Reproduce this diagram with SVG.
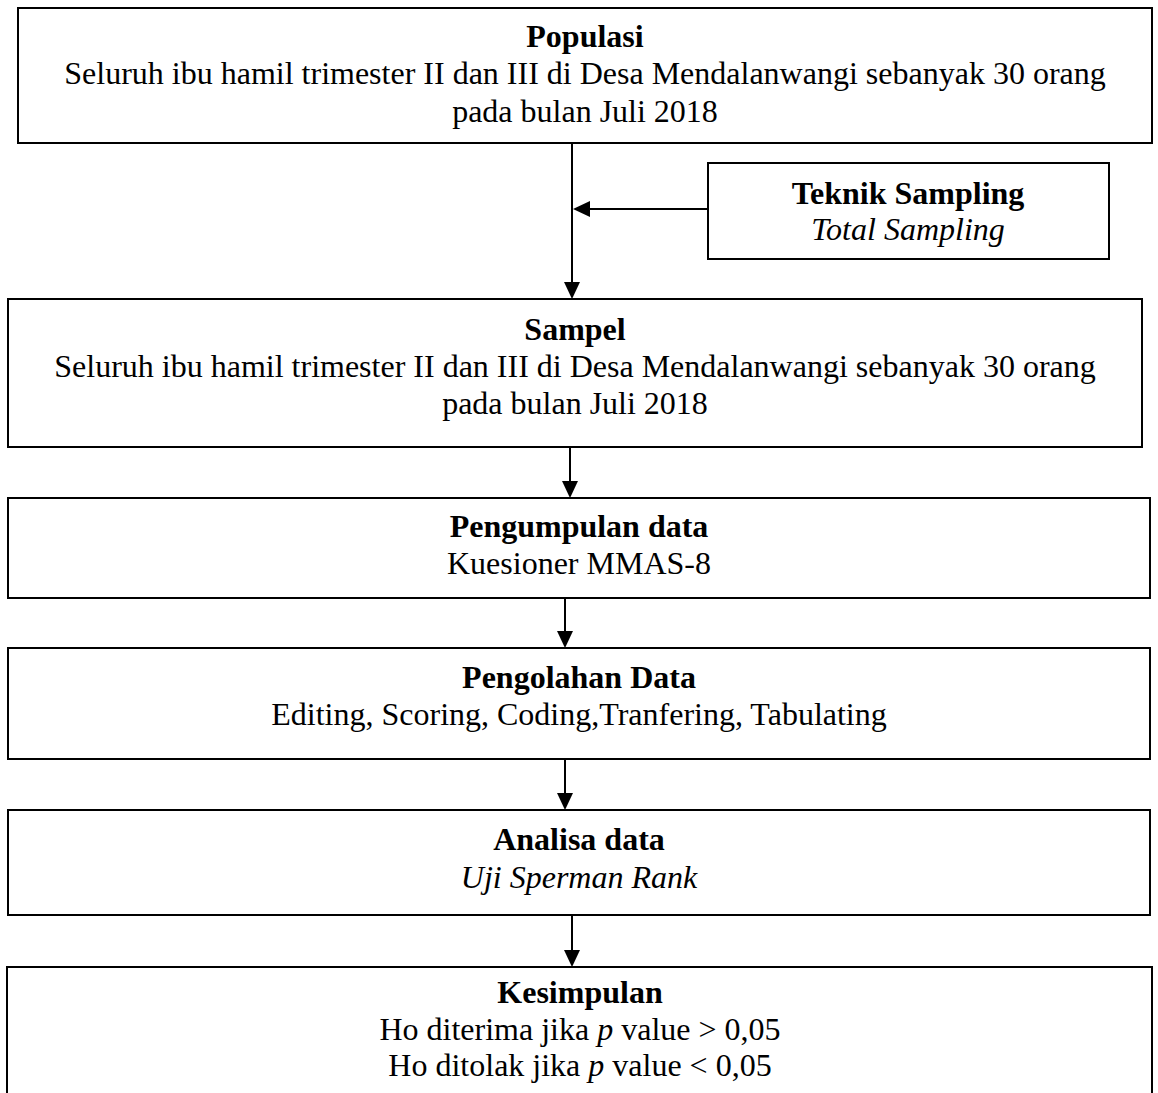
<svg xmlns="http://www.w3.org/2000/svg" width="1158" height="1093" viewBox="0 0 1158 1093">
<style>
.box{fill:#fff;stroke:#000;stroke-width:2}
.t{font-family:"Liberation Serif","Times New Roman",serif;font-size:32px;fill:#000;text-anchor:middle}
.b{font-weight:bold}
.i{font-style:italic}
.c{stroke:#000;stroke-width:2;fill:none}
.ah{fill:#000}
</style>
<rect width="1158" height="1093" fill="#fff"/>
<g id="connectors">
<line class="c" x1="572" y1="143" x2="572" y2="283"/>
<path class="ah" d="M564,282 L580,282 L572,299 z"/>
<line class="c" x1="708" y1="209" x2="589" y2="209"/>
<path class="ah" d="M590,201 L590,217 L573,209 z"/>
<line class="c" x1="570" y1="447" x2="570" y2="482"/>
<path class="ah" d="M562,481 L578,481 L570,498 z"/>
<line class="c" x1="565" y1="598" x2="565" y2="632"/>
<path class="ah" d="M557,631 L573,631 L565,648 z"/>
<line class="c" x1="565" y1="759" x2="565" y2="794"/>
<path class="ah" d="M557,793 L573,793 L565,810 z"/>
<line class="c" x1="572" y1="915" x2="572" y2="951"/>
<path class="ah" d="M564,950 L580,950 L572,967 z"/>
</g>
<g id="populasi">
<rect class="box" x="18" y="8" width="1134" height="135"/>
<text class="t b" x="585" y="47">Populasi</text>
<text class="t" x="585" y="84">Seluruh ibu hamil trimester II dan III di Desa Mendalanwangi sebanyak 30 orang</text>
<text class="t" x="585" y="122">pada bulan Juli 2018</text>
</g>
<g id="teknik">
<rect class="box" x="708" y="163" width="401" height="96"/>
<text class="t b" x="908" y="204">Teknik Sampling</text>
<text class="t i" x="908" y="240">Total Sampling</text>
</g>
<g id="sampel">
<rect class="box" x="8" y="299" width="1134" height="148"/>
<text class="t b" x="575" y="340">Sampel</text>
<text class="t" x="575" y="377">Seluruh ibu hamil trimester II dan III di Desa Mendalanwangi sebanyak 30 orang</text>
<text class="t" x="575" y="414">pada bulan Juli 2018</text>
</g>
<g id="pengumpulan">
<rect class="box" x="8" y="498" width="1142" height="100"/>
<text class="t b" x="579" y="537">Pengumpulan data</text>
<text class="t" x="579" y="574">Kuesioner MMAS-8</text>
</g>
<g id="pengolahan">
<rect class="box" x="8" y="648" width="1142" height="111"/>
<text class="t b" x="579" y="688">Pengolahan Data</text>
<text class="t" x="579" y="725">Editing, Scoring, Coding,Tranfering, Tabulating</text>
</g>
<g id="analisa">
<rect class="box" x="8" y="810" width="1142" height="105"/>
<text class="t b" x="579" y="850">Analisa data</text>
<text class="t i" x="579" y="888">Uji Sperman Rank</text>
</g>
<g id="kesimpulan">
<rect class="box" x="7" y="967" width="1145" height="140"/>
<text class="t b" x="580" y="1003">Kesimpulan</text>
<text class="t" x="580" y="1040">Ho diterima jika <tspan class="i">p</tspan> value &gt; 0,05</text>
<text class="t" x="580" y="1076">Ho ditolak jika <tspan class="i">p</tspan> value &lt; 0,05</text>
</g>
</svg>
